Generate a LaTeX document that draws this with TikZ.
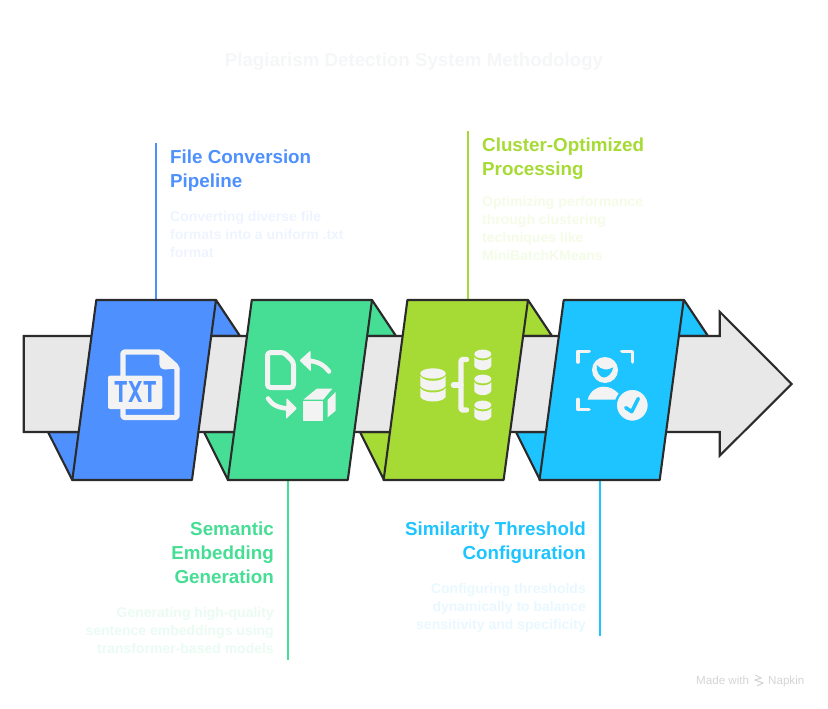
\documentclass[tikz,border=0pt]{standalone}
\usepackage{fontspec}
\setmainfont{Liberation Sans}
\setmonofont{DejaVu Sans Mono}
\definecolor{bluePanel}{HTML}{4D90FE}
\definecolor{greenPanel}{HTML}{45DE94}
\definecolor{limePanel}{HTML}{A6DA35}
\definecolor{cyanPanel}{HTML}{1DC4FF}
\definecolor{blueBody}{HTML}{EEF4FF}
\definecolor{greenBody}{HTML}{E9FBF2}
\definecolor{limeBody}{HTML}{F4FBE6}
\definecolor{cyanBody}{HTML}{E9F8FF}
\definecolor{titleGrey}{HTML}{F5F6F7}
\definecolor{bandGrey}{HTML}{E8E8E8}
\definecolor{edgeDark}{HTML}{2B2B2B}
\definecolor{iconWhite}{HTML}{F3F3F3}
\tikzset{
  panel/.style={draw=edgeDark, line width=2.1pt, line join=miter},
  flap/.style={draw=edgeDark, line width=2.1pt, line join=round},
  leader/.style={line width=2pt},
  head/.style={font=\fontsize{18.8}{24}\selectfont\bfseries, inner sep=0pt},
  body/.style={font=\fontsize{14}{18}\selectfont\bfseries, inner sep=0pt},
  foot/.style={anchor=base west, inner sep=0pt, text=black!17, font=\fontsize{11.6}{13}\selectfont},
  iconfill/.style={fill=iconWhite},
  iconline/.style={draw=iconWhite, line cap=round, line join=round}
}
\begin{document}
\begin{tikzpicture}[x=1pt, y=-1pt]
\useasboundingbox (0,0) rectangle (828,709);
\node[font=\fontsize{18.7}{24}\selectfont\bfseries, text=titleGrey] (title) at (414,62) {Plagiarism Detection System Methodology};
% flaps behind the band
\draw[flap, fill=bluePanel] (216,300) -- (240,336) -- (205,336) -- cycle;
\draw[flap, fill=greenPanel] (372,300) -- (396,336) -- (360,336) -- cycle;
\draw[flap, fill=limePanel] (528,300) -- (552,336) -- (516,336) -- cycle;
\draw[flap, fill=cyanPanel] (684,300) -- (708,336) -- (672,336) -- cycle;
\draw[flap, fill=bluePanel] (48,432) -- (72.3,480) -- (90,432) -- cycle;
\draw[flap, fill=greenPanel] (204,432) -- (228,480) -- (245,432) -- cycle;
\draw[flap, fill=limePanel] (360,432) -- (384,480) -- (400,432) -- cycle;
\draw[flap, fill=cyanPanel] (516,432) -- (540,480) -- (555,432) -- cycle;
% band with arrow head
\draw[panel, fill=bandGrey] (23.7,336) -- (719.7,336) -- (719.7,311.7) -- (791.7,384) -- (719.7,455.7) -- (719.7,432) -- (23.7,432) -- cycle;
% leaders
\coordinate (blueEnd) at (156,143);
\coordinate (blueTop) at (156,300);
\coordinate (greenEnd) at (288,660);
\coordinate (greenBot) at (288,480);
\coordinate (limeEnd) at (468,131);
\coordinate (limeTop) at (468,300);
\coordinate (cyanEnd) at (600,636);
\coordinate (cyanBot) at (600,480);
\draw[leader, draw=bluePanel] (blueEnd) -- (blueTop);
\draw[leader, draw=greenPanel] (greenEnd) -- (greenBot);
\draw[leader, draw=limePanel] (limeEnd) -- (limeTop);
\draw[leader, draw=cyanPanel] (cyanEnd) -- (cyanBot);
% panels
\draw[panel, line join=round, fill=bluePanel] (96.3,300) -- (216,300) -- (192,480) -- (72.3,480) -- cycle;
\draw[panel, line join=round, fill=greenPanel] (251.8,300) -- (372,300) -- (347.8,480) -- (227.8,480) -- cycle;
\draw[panel, line join=round, fill=limePanel] (407.4,300) -- (528,300) -- (503.6,480) -- (383.6,480) -- cycle;
\draw[panel, line join=round, fill=cyanPanel] (563.7,300) -- (683.7,300) -- (659.7,480) -- (539.5,480) -- cycle;
% texts
\node[head, text=bluePanel, anchor=north west, align=left] (fileHead) at (170,149.5) {File Conversion\\Pipeline};
\node[body, text=blueBody, anchor=north west, align=left] (fileBody) at (170,211) {Converting diverse file\\formats into a uniform .txt\\format};
\node[head, text=limePanel, anchor=north west, align=left] (clusterHead) at (482,137.5) {Cluster-Optimized\\Processing};
\node[body, text=limeBody, anchor=north west, align=left] (clusterBody) at (482,196) {Optimizing performance\\through clustering\\techniques like\\MiniBatchKMeans};
\node[head, text=greenPanel, anchor=north east, align=right] (semHead) at (274,521.5) {Semantic\\Embedding\\Generation};
\node[body, text=greenBody, anchor=north east, align=right] (semBody) at (274,607) {Generating high-quality\\sentence embeddings using\\transformer-based models};
\node[head, text=cyanPanel, anchor=north east, align=right] (simHead) at (586,521.5) {Similarity Threshold\\Configuration};
\node[body, text=cyanBody, anchor=north east, align=right] (simBody) at (586,583) {Configuring thresholds\\dynamically to balance\\sensitivity and specificity};
% file icon
\draw[iconline, line width=5.4pt, rounded corners=2pt] (123,376) -- (123,352) -- (160,352) -- (177,367) -- (177,417.5) -- (123,417.5) -- (123,408);
\fill[iconfill] (159.3,349.3) -- (180,368.3) -- (165,369.5) .. controls (161,369) and (159.3,367) .. (159.3,364) -- cycle;
\fill[iconfill, rounded corners=2pt] (108,375.7) rectangle (162.3,409);
\node[text=bluePanel, inner sep=0pt, font=\fontsize{24}{24}\selectfont\ttfamily\bfseries] (txtLabel) at (135.3,392.5) {\scalebox{1}[1.2]{TXT}};
% doc and cube icon
\draw[iconline, line width=5pt, rounded corners=3pt] (267.5,352.5) -- (284,352.5) -- (293.5,362) -- (293.5,387.5) -- (267.5,387.5) -- cycle;
\draw[iconline, line width=4.6pt] (329,371.5) .. controls (324,365) and (318,361) .. (306,360.5);
\fill[iconfill, rounded corners=1pt] (299.5,360.5) -- (310.5,350.5) -- (311,371.5) -- cycle;
\draw[iconline, line width=4.6pt] (268,398.5) .. controls (272,405) and (279,408.5) .. (290,408.5);
\fill[iconfill, rounded corners=1pt] (297,408.5) -- (286.5,398) -- (286,419) -- cycle;
\fill[iconfill] (303.3,400.7) rectangle (323.2,420.7);
\fill[iconfill] (303.6,399.5) -- (316.7,388.7) -- (332.3,388.7) -- (323.3,399.5) -- cycle;
\fill[iconfill] (327.7,400) -- (335.7,392) -- (335.7,410.7) -- (327.7,417.3) -- cycle;
% database icon
\fill[iconfill] (433,373.5) ellipse [x radius=12.8pt, y radius=5.2pt];
\fill[iconfill] (420.3,376) .. controls (424,382.5) and (442,382.5) .. (445.7,376) -- (445.7,386) .. controls (442,392) and (424,392) .. (420.3,386) -- cycle;
\fill[iconfill] (420.3,388) .. controls (424,394) and (442,394) .. (445.7,388) -- (445.7,397) .. controls (442,403) and (424,403) .. (420.3,397) -- cycle;
\draw[iconline, line width=5.4pt, rounded corners=2pt] (466.5,359.5) -- (461,359.5) -- (461,410) -- (466.5,410);
\draw[iconline, line width=5.4pt] (453.5,385) -- (461,385);
\fill[iconfill] (482.8,354) ellipse [x radius=8.5pt, y radius=4.4pt];
\fill[iconfill] (474.3,357) .. controls (477,361.5) and (488.6,361.5) .. (491.3,357) -- (491.3,366) .. controls (488.6,371.5) and (477,371.5) .. (474.3,366) -- cycle;
\fill[iconfill] (482.8,379) ellipse [x radius=8.5pt, y radius=4.4pt];
\fill[iconfill] (474.3,382) .. controls (477,386.5) and (488.6,386.5) .. (491.3,382) -- (491.3,391) .. controls (488.6,396.5) and (477,396.5) .. (474.3,391) -- cycle;
\fill[iconfill] (482.8,405) ellipse [x radius=8.5pt, y radius=4.4pt];
\fill[iconfill] (474.3,408) .. controls (477,412.5) and (488.6,412.5) .. (491.3,408) -- (491.3,416.5) .. controls (488.6,422) and (477,422) .. (474.3,416.5) -- cycle;
% person check icon
\draw[iconline, line width=3.6pt] (578,362) -- (578,351.3) -- (589,351.3);
\draw[iconline, line width=3.6pt] (622,351.3) -- (632.5,351.3) -- (632.5,362);
\draw[iconline, line width=3.6pt] (578,399.5) -- (578,409.5) -- (589,409.5);
\fill[iconfill] (605,370) circle [radius=13pt];
\fill[cyanPanel] (596.7,365) .. controls (601,370) and (608,371) .. (613.3,367.3) .. controls (612,374) and (607,377.5) .. (604,377.5) .. controls (600,377.5) and (596,372) .. (596.7,365) -- cycle;
\fill[iconfill] (587.7,399.5) .. controls (590,391) and (597,386.7) .. (603,386.7) .. controls (610,386.7) and (614,389) .. (619,394) -- (619,399.5) -- cycle;
\draw[cyanPanel, fill=iconWhite, line width=2.4pt] (632.3,405.3) circle [radius=16.6pt];
\draw[cyanPanel, line width=3.6pt, line cap=round, line join=round] (625.7,407.7) -- (631.7,411.7) -- (638.3,398.5);
% footer
\node[foot] (madeWith) at (696,684.5) {Made with};
\node[foot] (napkin) at (768,684.5) {Napkin};
\draw[black!17, line width=1.1pt] (755,675) -- (761,678) -- (755,680) -- (763,683) -- (757,686);
\end{tikzpicture}
\end{document}
